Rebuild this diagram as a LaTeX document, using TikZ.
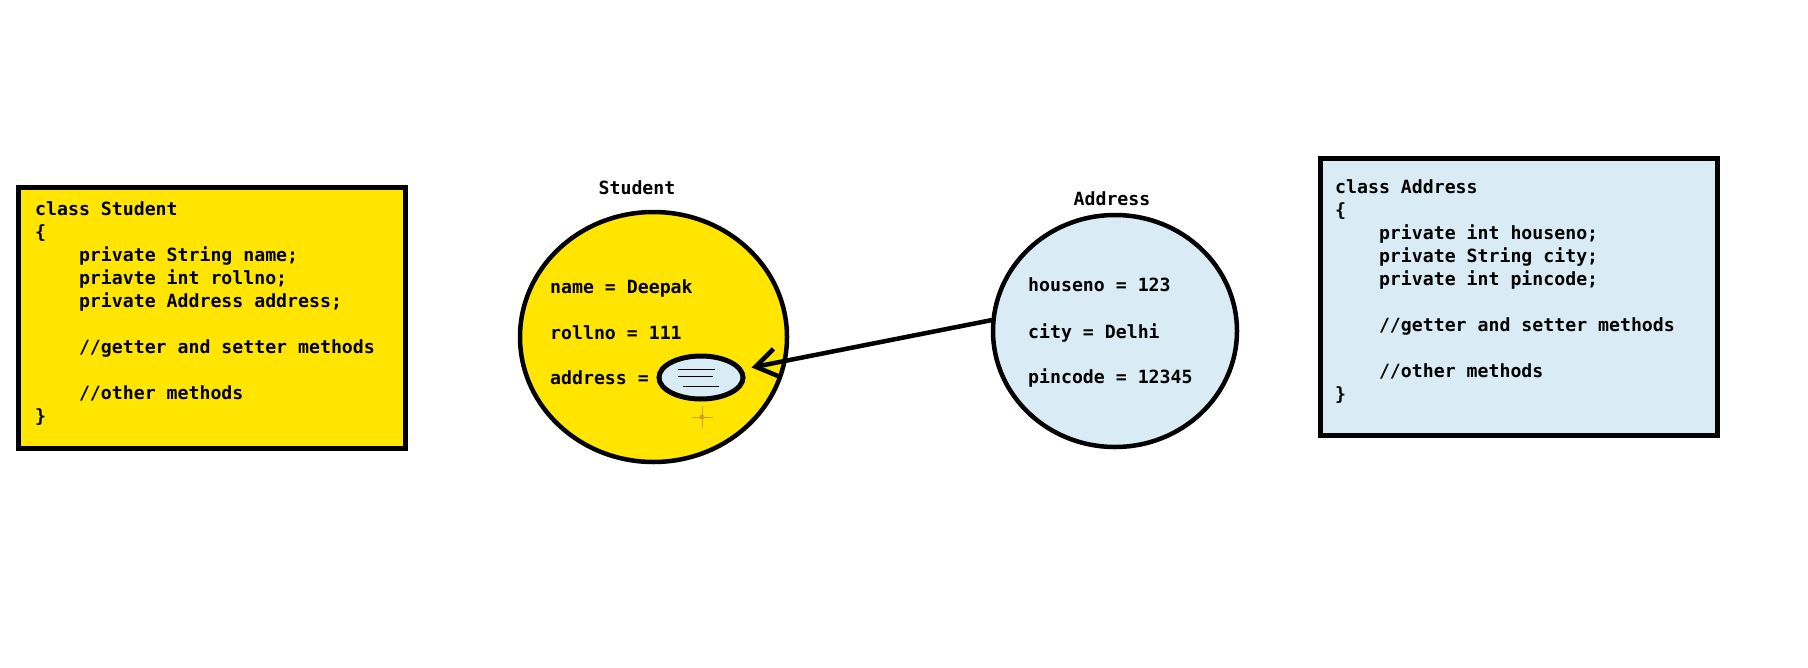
\documentclass[tikz,border=0pt]{standalone}
\usepackage{fontspec}
\setmonofont{DejaVu Sans Mono}
\usetikzlibrary{shapes.geometric,arrows.meta}
\definecolor{yellowc}{RGB}{255,229,0}
\definecolor{bluec}{RGB}{217,236,245}
\definecolor{cursorc}{RGB}{214,160,40}
\tikzset{
  code/.style={font=\fontsize{18.2}{23}\selectfont\ttfamily\bfseries, inner sep=0pt, align=left},
  classbox/.style={draw, line width=5pt, inner sep=0pt, anchor=north west},
  objcirc/.style={draw, ellipse, line width=4.5pt, inner sep=0pt},
}
\newcommand{\ind}{\phantom{xxxx}}
\begin{document}
\begin{tikzpicture}[x=1pt,y=-1pt]
\useasboundingbox (0,0) rectangle (1808,667);
\fill[white] (0,0) rectangle (1808,667);

% Student class box
\node[classbox, fill=yellowc, minimum width=387pt, minimum height=261pt] (sbox) at (15.5,184.5) {};
\node[code, anchor=base west] (stext) at (35,422) {class Student\\
\{\\
\ind private String name;\\
\ind priavte int rollno;\\
\ind private Address address;\\[23pt]
\ind //getter and setter methods\\[23pt]
\ind //other methods\\
\}};

% Address class box
\node[classbox, fill=bluec, minimum width=397pt, minimum height=277pt] (abox) at (1317.5,155.5) {};
\node[code, anchor=base west] (atext) at (1335,400) {class Address\\
\{\\
\ind private int houseno;\\
\ind private String city;\\
\ind private int pincode;\\[23pt]
\ind //getter and setter methods\\[23pt]
\ind //other methods\\
\}};

% Student object
\node[code] (slabel) at (637,188) {Student};
\node[objcirc, fill=yellowc, minimum width=267pt, minimum height=250pt] (scirc) at (653.5,337) {};
\node[code, anchor=base west] (sname) at (550,293) {name = Deepak};
\node[code, anchor=base west] (sroll) at (550,339) {rollno = 111};
\node[code, anchor=base west] (saddr) at (550,384) {address =};
\node[draw, ellipse, line width=5pt, fill=bluec, minimum width=84pt, minimum height=43pt, inner sep=0pt] (small) at (701,377.5) {};
\draw[line width=1pt] (678,369) -- (715,369);
\draw[line width=1pt] (678,376.5) -- (713,376.5);
\draw[line width=1pt] (683,386) -- (719,386);

% cursor
\draw[cursorc, line width=1pt] (702,406) -- (702,428) (692,417) -- (713,417);
\fill[cursorc] (702,417) circle (2.5pt);

% Address object
\node[code] (alabel) at (1112,199) {Address};
\node[objcirc, fill=bluec, minimum width=244pt, minimum height=232pt] (acirc) at (1115,331) {};
\node[code, anchor=base west] (ahouse) at (1028,291) {houseno = 123};
\node[code, anchor=base west] (acity) at (1028,338) {city = Delhi};
\node[code, anchor=base west] (apin) at (1028,383) {pincode = 12345};

% reference arrow
\draw[line width=4.5pt, line cap=round, -{Straight Barb[length=21pt,width=28pt]}, shorten >=9pt] (acirc.175) -- (small);
\end{tikzpicture}
\end{document}
